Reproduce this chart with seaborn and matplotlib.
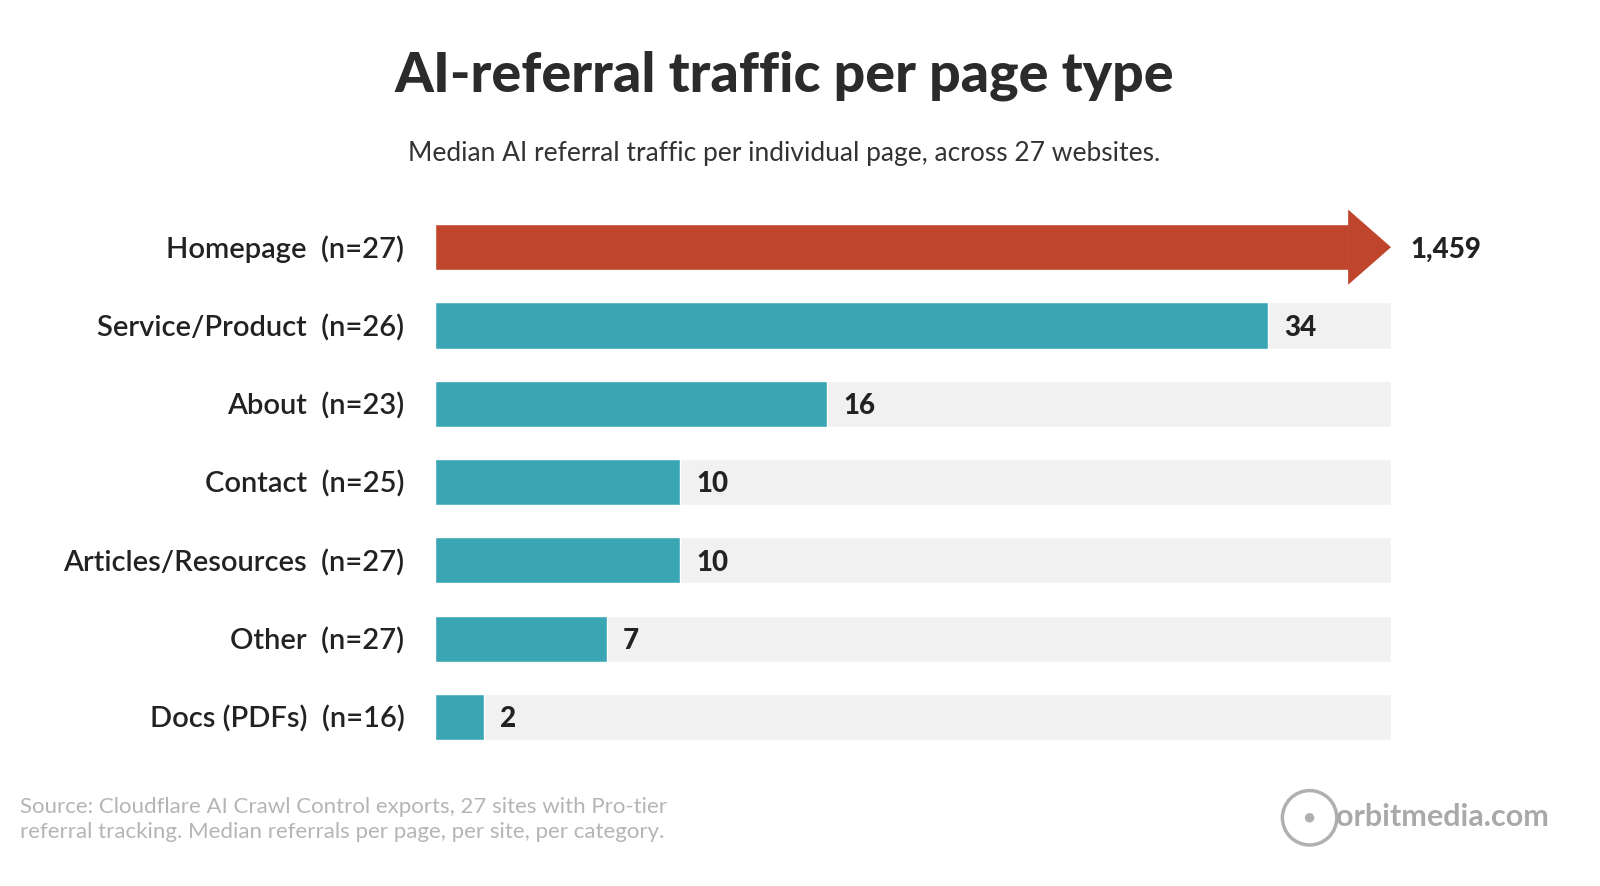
import numpy as np
import pandas as pd
import matplotlib
matplotlib.use("Agg")
import matplotlib.pyplot as plt
import seaborn as sns
from matplotlib.patches import Polygon, Ellipse

# data
pages = ["Homepage", "Service/Product", "About", "Contact",
         "Articles/Resources", "Other", "Docs (PDFs)"]
sizes = [27, 26, 23, 25, 27, 27, 16]
medians = [1459, 34, 16, 10, 10, 7, 2]
value_labels = ["1,459", "34", "16", "10", "10", "7", "2"]

AXIS_MAX = 39  # scale is broken for the homepage
TEAL = "#3AA6B4"
RED = "#C0452D"
TRACK = "#F1F1F1"

sns.set_style("white")
plt.rcParams["font.family"] = ["Lato", "DejaVu Sans"]

df = pd.DataFrame({"page": pages, "median": medians})
df["shown"] = df["median"].clip(upper=AXIS_MAX - 1.7)
df["track"] = [0 if m > AXIS_MAX else AXIS_MAX for m in medians]

fig = plt.figure(figsize=(16, 8.86), dpi=100)
ax = fig.add_axes([0.2719, 0.1467, 0.5975, 0.6185])

sns.barplot(data=df, y="page", x="track", color=TRACK, width=0.59,
            orient="h", ax=ax, saturation=1)
colors = [RED if m > AXIS_MAX else TEAL for m in medians]
sns.barplot(data=df, y="page", x="shown", hue="page", palette=colors,
            width=0.59, orient="h", ax=ax, saturation=1, legend=False)

for i, m in enumerate(medians):
    if m > AXIS_MAX:
        x0 = df["shown"][i] - 0.05
        ax.add_patch(Polygon([(x0, i - 0.48), (AXIS_MAX, i), (x0, i + 0.48)],
                             closed=True, color=RED, zorder=4, lw=0))
        ax.text(AXIS_MAX + 0.8, i + 0.03, value_labels[i], va="center", ha="left",
                fontsize=20, fontweight="black", color="#222222")
    else:
        ax.text(m + 0.65, i + 0.03, value_labels[i], va="center", ha="left",
                fontsize=20, fontweight="black", color="#222222", zorder=5)

ax.set_xlim(0, AXIS_MAX)
ax.set_ylim(6.5, -0.5)
ax.set_xticks([])
ax.set_yticks(range(len(pages)))
ax.set_yticklabels([f"{p}  (n={n})" for p, n in zip(pages, sizes)],
                   fontsize=21, color="#222222", fontweight="semibold")
ax.tick_params(axis="y", length=0, pad=22)
ax.set_xlabel("")
ax.set_ylabel("")
sns.despine(ax=ax, left=True, bottom=True)

fig.text(0.49, 0.915, "AI-referral traffic per page type", ha="center",
         va="center", fontsize=40, fontweight="black", color="#2b2b2b")
fig.text(0.49, 0.827, "Median AI referral traffic per individual page, across 27 websites.",
         ha="center", va="center", fontsize=19, color="#333333")
fig.text(0.0125, 0.075, "Source: Cloudflare AI Crawl Control exports, 27 sites with Pro-tier\n"
         "referral tracking. Median referrals per page, per site, per category.",
         ha="left", va="center", fontsize=16, color="#b5b5b5", linespacing=1.3)
fig.text(0.968, 0.078, "orbitmedia.com", ha="right", va="center",
         fontsize=22, fontweight="bold", color="#a9a9a9")
fig.patches.append(Ellipse((0.8185, 0.077), 0.034, 0.034 * 1600 / 886,
                           transform=fig.transFigure, fill=False,
                           ec="#b0b0b0", lw=2.5))
fig.patches.append(Ellipse((0.8185, 0.077), 0.005, 0.005 * 1600 / 886,
                           transform=fig.transFigure, color="#b0b0b0"))

fig.savefig("out.png", dpi=100)
